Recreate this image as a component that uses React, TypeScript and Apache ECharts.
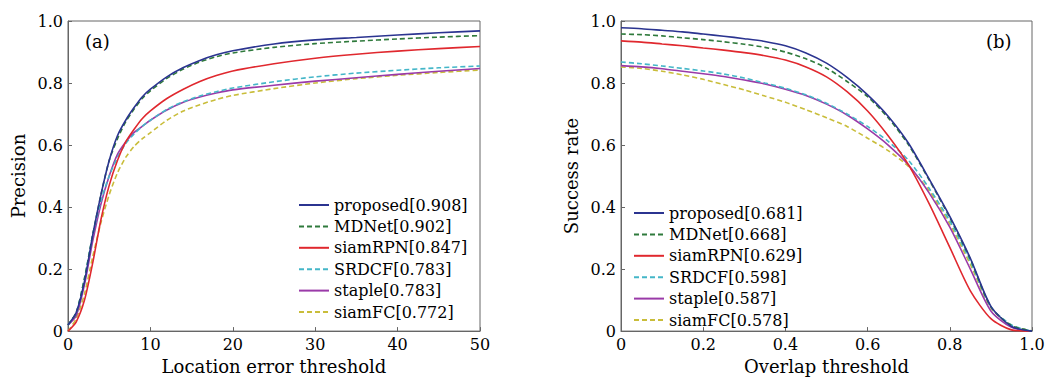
import React, { useEffect, useRef } from "react";
import * as echarts from "echarts";

// ---- Data ----
const precisionX = [0, 1, 2, 3, 4, 5, 6, 7, 8, 9, 10, 12, 14, 16, 18, 20, 25, 30, 35, 40, 45, 50];
const precProposed = [0.02, 0.06, 0.16, 0.31, 0.44, 0.55, 0.63, 0.68, 0.72, 0.755, 0.78, 0.82, 0.85, 0.873, 0.891, 0.904, 0.926, 0.939, 0.947, 0.955, 0.962, 0.968];
const precMDNet = [0.02, 0.06, 0.17, 0.31, 0.44, 0.55, 0.62, 0.675, 0.715, 0.75, 0.775, 0.815, 0.845, 0.868, 0.885, 0.897, 0.915, 0.927, 0.935, 0.942, 0.948, 0.953];
const precSiamRPN = [0.0, 0.03, 0.1, 0.22, 0.36, 0.47, 0.55, 0.61, 0.65, 0.685, 0.71, 0.75, 0.78, 0.805, 0.824, 0.839, 0.862, 0.88, 0.893, 0.903, 0.911, 0.918];
const precSRDCF = [0.02, 0.06, 0.17, 0.31, 0.42, 0.5, 0.56, 0.605, 0.635, 0.66, 0.68, 0.715, 0.74, 0.758, 0.772, 0.784, 0.804, 0.82, 0.832, 0.841, 0.849, 0.855];
const precStaple = [0.02, 0.05, 0.15, 0.29, 0.41, 0.5, 0.57, 0.61, 0.64, 0.66, 0.68, 0.713, 0.738, 0.755, 0.768, 0.778, 0.793, 0.806, 0.817, 0.828, 0.838, 0.847];
const precSiamFC = [0.0, 0.04, 0.12, 0.24, 0.35, 0.44, 0.51, 0.56, 0.595, 0.62, 0.64, 0.68, 0.71, 0.73, 0.747, 0.76, 0.782, 0.8, 0.814, 0.825, 0.834, 0.842];

const successX = [0, 0.05, 0.1, 0.15, 0.2, 0.25, 0.3, 0.35, 0.4, 0.45, 0.5, 0.55, 0.6, 0.65, 0.7, 0.75, 0.8, 0.85, 0.9, 0.95, 1.0];
const succProposed = [0.978, 0.975, 0.97, 0.965, 0.958, 0.951, 0.943, 0.934, 0.92, 0.897, 0.864, 0.818, 0.762, 0.693, 0.605, 0.49, 0.37, 0.235, 0.08, 0.015, 0.0];
const succMDNet = [0.958, 0.956, 0.952, 0.946, 0.94, 0.933, 0.925, 0.915, 0.9, 0.878, 0.848, 0.805, 0.756, 0.688, 0.6, 0.487, 0.366, 0.232, 0.078, 0.018, 0.0];
const succSiamRPN = [0.936, 0.932, 0.926, 0.92, 0.913, 0.906, 0.898, 0.888, 0.874, 0.852, 0.82, 0.772, 0.71, 0.63, 0.535, 0.41, 0.27, 0.13, 0.04, 0.004, 0.0];
const succSRDCF = [0.868, 0.862, 0.855, 0.847, 0.839, 0.829, 0.816, 0.8, 0.783, 0.762, 0.735, 0.7, 0.66, 0.612, 0.55, 0.46, 0.355, 0.225, 0.078, 0.02, 0.0];
const succStaple = [0.856, 0.852, 0.846, 0.838, 0.83, 0.821, 0.81, 0.797, 0.78, 0.76, 0.732, 0.697, 0.652, 0.6, 0.535, 0.445, 0.335, 0.2, 0.065, 0.012, 0.0];
const succSiamFC = [0.852, 0.847, 0.838, 0.826, 0.812, 0.795, 0.778, 0.758, 0.738, 0.714, 0.688, 0.66, 0.622, 0.582, 0.53, 0.452, 0.345, 0.215, 0.075, 0.018, 0.0];

const trackers = ["proposed", "MDNet", "siamRPN", "SRDCF", "staple", "siamFC"];
const precScores = ["0.908", "0.902", "0.847", "0.783", "0.783", "0.772"];
const succScores = ["0.681", "0.668", "0.629", "0.598", "0.587", "0.578"];
const colors = ["#2b3490", "#2f7a3c", "#e0282e", "#44b6c8", "#9a3aa8", "#c9bd3a"];
const dashed = [false, true, false, true, false, true];

const FONT = "DejaVu Serif";

export default function App() {
  const ref = useRef<HTMLDivElement>(null);
  useEffect(() => {
    if (!ref.current) return;
    const chart = echarts.init(ref.current, null, { renderer: "svg" });
    const precSets = [precProposed, precMDNet, precSiamRPN, precSRDCF, precStaple, precSiamFC];
    const succSets = [succProposed, succMDNet, succSiamRPN, succSRDCF, succStaple, succSiamFC];
    const precNames = trackers.map((t, i) => `${t}[${precScores[i]}]`);
    const succNames = trackers.map((t, i) => `${t}[${succScores[i]}]`);

    const mkSeries = (names: string[], sets: number[][], xs: number[], idx: number) =>
      names.map((name, i) => ({
        name,
        type: "line",
        xAxisIndex: idx,
        yAxisIndex: idx,
        data: xs.map((x, k) => [x, sets[i][k]]),
        showSymbol: false,
        symbol: "none",
        smooth: 0.25,
        lineStyle: { color: colors[i], width: 1.6, type: dashed[i] ? [5, 3] : "solid" },
        itemStyle: { color: colors[i] },
        z: 10 - i,
      }));

    const fmtDec = (v: number) => (v === 0 ? "0" : v.toFixed(1));
    const fmtInt = (v: number) => String(Math.round(v));
    const axisCommon = {
      axisLine: { show: true, lineStyle: { color: "#666", width: 1 } },
      axisTick: { show: true, inside: true, length: 4, lineStyle: { color: "#666" } },
      splitLine: { show: false },
      nameTextStyle: { color: "#000", fontFamily: FONT, fontSize: 18 },
      nameLocation: "middle",
    };
    const labelStyle = { color: "#000", fontFamily: FONT, fontSize: 16, margin: 5 };
    const legendCommon = {
      orient: "vertical",
      itemWidth: 30,
      itemHeight: 14,
      itemGap: 5.4,
      itemStyle: { opacity: 0 },
      textStyle: { color: "#000", fontFamily: FONT, fontSize: 16, lineHeight: 16 },
      padding: 0,
    };

    chart.setOption({
      animation: false,
      backgroundColor: "#fff",
      grid: [
        { left: 68, top: 21, width: 412, height: 317, show: true, borderColor: "#666", borderWidth: 1, backgroundColor: "transparent" },
        { left: 621, top: 21, width: 411, height: 317, show: true, borderColor: "#666", borderWidth: 1, backgroundColor: "transparent" },
      ],
      xAxis: [
        { ...axisCommon, type: "value", gridIndex: 0, min: 0, max: 50, interval: 10, name: "Location error threshold", nameGap: 23, axisLabel: { ...labelStyle, formatter: fmtInt } },
        { ...axisCommon, type: "value", gridIndex: 1, min: 0, max: 1, interval: 0.2, name: "Overlap threshold", nameGap: 23, axisLabel: { ...labelStyle, formatter: fmtDec } },
      ],
      yAxis: [
        { ...axisCommon, type: "value", gridIndex: 0, min: 0, max: 1, interval: 0.2, name: "Precision", nameGap: 41, axisLabel: { ...labelStyle, formatter: fmtDec } },
        { ...axisCommon, type: "value", gridIndex: 1, min: 0, max: 1, interval: 0.2, name: "Success rate", nameGap: 41, axisLabel: { ...labelStyle, formatter: fmtDec } },
      ],
      legend: [
        { ...legendCommon, left: 298, top: 197, data: precNames },
        { ...legendCommon, left: 633, top: 205, data: succNames },
      ],
      graphic: [
        { type: "text", left: 85, top: 32, style: { text: "(a)", font: `18px "${FONT}"`, fill: "#000" } },
        { type: "text", left: 986, top: 32, style: { text: "(b)", font: `18px "${FONT}"`, fill: "#000" } },
      ],
      series: [
        ...mkSeries(precNames, precSets, precisionX, 0),
        ...mkSeries(succNames, succSets, successX, 1),
      ],
    } as any);
    return () => chart.dispose();
  }, []);
  return (
    <div
      ref={ref}
      style={{ position: "absolute", left: 0, top: 0, width: 1050, height: 380 }}
    />
  );
}
